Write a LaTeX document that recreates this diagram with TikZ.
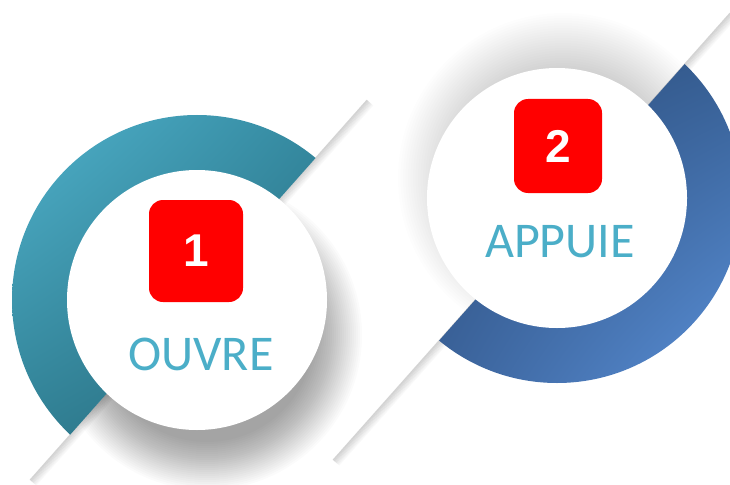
\documentclass[tikz,border=0pt]{standalone}
\usepackage{fontspec}
\setmainfont{Carlito}
\newfontfamily\digitfont{Liberation Sans}
\usetikzlibrary{calc,shadings}

\definecolor{wordteal}{HTML}{4BAEC8}
\definecolor{tealA}{HTML}{50B2CC}
\definecolor{tealB}{HTML}{2F8298}
\definecolor{tealC}{HTML}{2C798C}
\definecolor{tealD}{HTML}{245C6C}
\definecolor{blueA}{HTML}{2A4874}
\definecolor{blueB}{HTML}{315789}
\definecolor{blueC}{HTML}{34598D}
\definecolor{blueD}{HTML}{5A90D8}

\tikzset{
	numbox/.style={fill=red, rounded corners=14pt, inner sep=0pt,
		text=white, font=\digitfont\bfseries\fontsize{46}{46}\selectfont},
	word/.style={text=wordteal, inner sep=0pt, anchor=base,
		font=\fontsize{50}{50}\selectfont}
}

\begin{document}
\begin{tikzpicture}[x=1pt,y=-1pt]

	% canvas
	\useasboundingbox (0,0) rectangle (730,484);
	\fill[white] (0,0) rectangle (730,484);

	% radii of disc and ring
	\def\r{130}
	\def\R{185}

	% centres
	\coordinate (C1) at (197,300);
	\coordinate (C2) at (557,198);

	% visible ends of the two cut lines
	\coordinate (L1a) at (367,100);
	\coordinate (L1b) at (30,480);
	\coordinate (L2a) at (730,13);
	\coordinate (L2b) at (333,460);

	% far points on the cut lines, for clipping
	\coordinate (F1a) at (704,-280);
	\coordinate (F1b) at (-307,860);
	\coordinate (F2a) at (1127,-434);
	\coordinate (F2b) at (-64,907);

	% soft shadows, only inside the band between the lines
	\begin{scope}
		\clip (F1a) -- (F1b) -- (F2b) -- (F2a) -- cycle;
		\foreach \i in {0,...,24}
			\fill[black, opacity=0.016] ($(C1)+(10,35)$) circle[radius={155-2*\i}];
		\foreach \i in {0,...,24}
			\fill[black, opacity=0.008] ($(C2)+(6,-20)$) circle[radius={165-2.5*\i}];
	\end{scope}

	% edge shade along the cut lines
	\foreach \i [evaluate=\i as \op using {0.16*(1-\i/9)}] in {0,...,8} {
		\draw[black, line width=1pt, opacity=\op]
			($(L1a)+(0.75*\i,0.66*\i)$) -- ($(L1b)+(0.75*\i,0.66*\i)$);
		\draw[black, line width=1pt, opacity=\op]
			($(L2a)+(0.75*\i,0.66*\i)$) -- ($(L2b)+(0.75*\i,0.66*\i)$);
	}

	% ring 1, upper left of its line
	\begin{scope}
		\clip (F1a) -- (F1b) -- (-800,860) -- (-800,-280) -- cycle;
		\shade[upper left=tealA, upper right=tealB, lower left=tealC, lower right=tealD]
			(C1) circle[radius=\R];
	\end{scope}

	% ring 2, lower right of its line
	\begin{scope}
		\clip (F2a) -- (F2b) -- (1500,907) -- (1500,-434) -- cycle;
		\shade[upper left=blueA, upper right=blueB, lower left=blueC, lower right=blueD]
			(C2) circle[radius=\R];
	\end{scope}

	% white discs
	\fill[white] (C1) circle[radius=\r];
	\fill[white] (C2) circle[radius=\r];

	% number boxes
	\node[numbox, minimum width=94, minimum height=102] (box1) at (196,251) {1};
	\node[numbox, minimum width=88, minimum height=94] (box2) at (558,146) {2};

	% words
	\node[word] (word1) at (201,370) {OUVRE};
	\node[word] (word2) at (560,257) {APPUIE};

\end{tikzpicture}
\end{document}
